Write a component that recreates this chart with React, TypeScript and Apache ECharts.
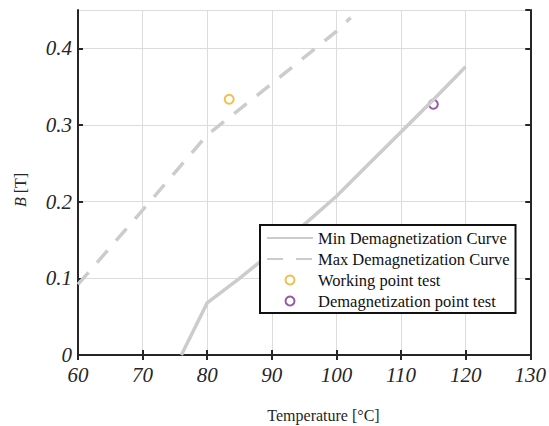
import React, { useEffect, useRef } from "react";
import * as echarts from "echarts";

const xTicks = [60, 70, 80, 90, 100, 110, 120, 130];
const yTicks = [0, 0.1, 0.2, 0.3, 0.4];

const minCurve: [number, number][] = [
  [76, 0], [80, 0.068], [85, 0.1], [90, 0.134], [95, 0.17], [100, 0.207],
  [105, 0.249], [110, 0.291], [115, 0.333], [120, 0.376],
];
const maxCurve: [number, number][] = [
  [60, 0.092], [70, 0.189], [80, 0.287], [90, 0.354], [100, 0.422], [102.2, 0.44],
];
const workingPoint: [number, number][] = [[83.4, 0.3335]];
const demagPoint: [number, number][] = [[115.0, 0.327]];

const seriesNames = [
  "Min Demagnetization Curve",
  "Max Demagnetization Curve",
  "Working point test",
  "Demagnetization point test",
];

const AXIS_COLOR = "#262626";
const CURVE_COLOR = "#cccccc";
const SERIF = "Liberation Serif";

export default function App() {
  const ref = useRef<HTMLDivElement>(null);
  useEffect(() => {
    if (!ref.current) return;
    const chart = echarts.init(ref.current, null, { renderer: "svg" });
    const xMin = xTicks[0];
    const xMax = xTicks[xTicks.length - 1];
    const yMin = yTicks[0];
    const yMax = 0.45;
    const axisLine = { show: true, lineStyle: { color: AXIS_COLOR, width: 2 } };
    const axisTick = { show: true, inside: true, length: 5, lineStyle: { color: AXIS_COLOR, width: 2 } };
    const labelStyle = {
      fontFamily: SERIF,
      fontStyle: "italic" as const,
      fontSize: 21,
      color: AXIS_COLOR,
    };
    const hiddenDot = { color: "rgba(0,0,0,0)", borderColor: "rgba(0,0,0,0)", borderWidth: 0, opacity: 0 };
    chart.setOption({
      animation: false,
      backgroundColor: "#ffffff",
      grid: { left: 78, right: 17, top: 10, bottom: 71, containLabel: false },
      xAxis: [
        {
          type: "value",
          min: xMin,
          max: xMax,
          interval: 10,
          position: "bottom",
          axisLine,
          axisTick,
          axisLabel: { ...labelStyle, margin: 9 },
          splitLine: { show: true, lineStyle: { color: "#dcdcdc", width: 1 } },
        },
        {
          type: "value",
          min: xMin,
          max: xMax,
          interval: 10,
          position: "top",
          axisLine,
          axisTick,
          axisLabel: { show: false },
          splitLine: { show: false },
        },
      ],
      yAxis: [
        {
          type: "value",
          min: yMin,
          max: yMax,
          interval: 0.1,
          position: "left",
          axisLine,
          axisTick,
          axisLabel: { ...labelStyle, margin: 6, showMaxLabel: false },
          splitLine: { show: true, lineStyle: { color: "#dcdcdc", width: 1 } },
        },
        {
          type: "value",
          min: yMin,
          max: yMax,
          interval: 0.1,
          position: "right",
          axisLine,
          axisTick,
          axisLabel: { show: false },
          splitLine: { show: false },
        },
      ],
      legend: {
        orient: "vertical",
        left: 260,
        top: 225,
        padding: [3, 6, 2, 6],
        itemWidth: 46,
        itemHeight: 9,
        itemGap: 1,
        itemTextGap: 4,
        backgroundColor: "#ffffff",
        borderColor: "#111111",
        borderWidth: 2,
        borderRadius: 0,
        textStyle: { fontFamily: SERIF, fontSize: 16.5, color: "#111111", lineHeight: 20 },
        data: [
          { name: seriesNames[0], itemStyle: hiddenDot },
          { name: seriesNames[1], itemStyle: hiddenDot },
          { name: seriesNames[2], itemStyle: { borderWidth: 1 } },
          { name: seriesNames[3], itemStyle: { borderWidth: 1 } },
        ],
      },
      graphic: [
        {
          type: "text",
          x: 323.5,
          y: 415,
          style: {
            text: "Temperature [°C]",
            fontFamily: SERIF,
            fontSize: 16,
            fill: AXIS_COLOR,
            textAlign: "center",
            textVerticalAlign: "middle",
          },
        },
        {
          type: "text",
          x: 20,
          y: 190,
          rotation: Math.PI / 2,
          style: {
            text: "{i|B} [T]",
            fontFamily: SERIF,
            fontSize: 16,
            fill: AXIS_COLOR,
            textAlign: "center",
            textVerticalAlign: "middle",
            rich: {
              i: { fontFamily: SERIF, fontSize: 16, fontStyle: "italic", fill: AXIS_COLOR },
            },
          },
        },
      ],
      series: [
        {
          name: seriesNames[0],
          type: "line",
          data: minCurve,
          symbol: "none",
          clip: true,
          lineStyle: { color: CURVE_COLOR, width: 3.5 },
          itemStyle: { color: CURVE_COLOR },
        },
        {
          name: seriesNames[1],
          type: "line",
          data: maxCurve,
          symbol: "none",
          clip: true,
          lineStyle: { color: CURVE_COLOR, width: 3.5, type: [16, 13], cap: "butt" },
          itemStyle: { color: CURVE_COLOR },
        },
        {
          name: seriesNames[2],
          type: "scatter",
          data: workingPoint,
          symbol: "emptyCircle",
          symbolSize: 9,
          itemStyle: { color: "#EDB120", borderColor: "#EDB120", borderWidth: 1 },
        },
        {
          name: seriesNames[3],
          type: "scatter",
          data: demagPoint,
          symbol: "emptyCircle",
          symbolSize: 9,
          itemStyle: { color: "#7E2F8E", borderColor: "#7E2F8E", borderWidth: 1 },
        },
      ],
    });
    return () => chart.dispose();
  }, []);
  return (
    <div
      ref={ref}
      style={{ position: "fixed", left: 0, top: 0, width: 549, height: 426, background: "#fff" }}
    />
  );
}
